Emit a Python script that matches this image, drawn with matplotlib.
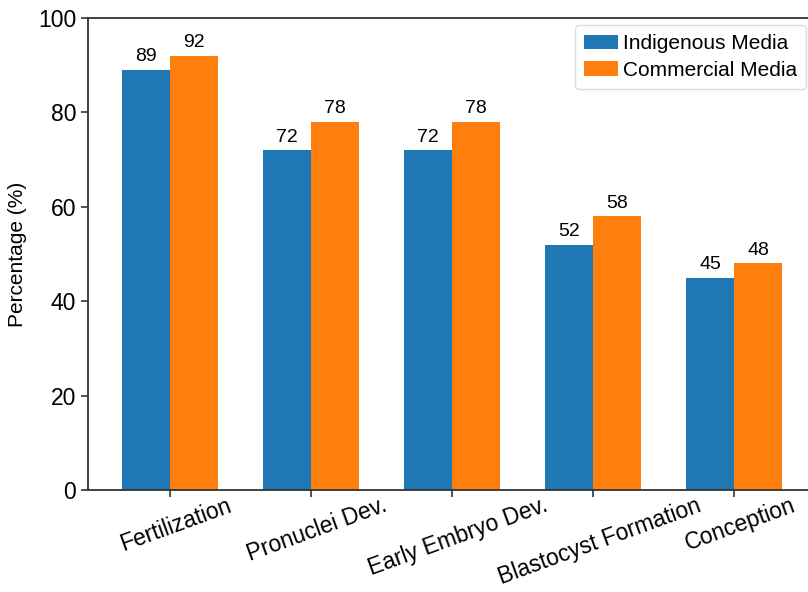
import numpy as np
import matplotlib.pyplot as plt
from matplotlib.transforms import ScaledTranslation

plt.rcParams['font.family'] = ['Liberation Sans', 'DejaVu Sans']

stages = ['Fertilization', 'Pronuclei Dev.', 'Early Embryo Dev.',
          'Blastocyst Formation', 'Conception']
indigenous = [89, 72, 72, 52, 45]
commercial = [92, 78, 78, 58, 48]

x = np.arange(len(stages))
width = 0.34

fig = plt.figure(figsize=(8.08, 5.92), dpi=100)
ax = fig.add_axes([0.109, 0.172, 0.901, 0.798])

b1 = ax.bar(x - width / 2, indigenous, width, color='#1f77b4', label='Indigenous Media')
b2 = ax.bar(x + width / 2, commercial, width, color='#ff7f0e', label='Commercial Media')

# value labels on top of each bar
for bars, vals in ((b1, indigenous), (b2, commercial)):
    for rect, v in zip(bars, vals):
        ax.text(rect.get_x() + rect.get_width() / 2, v + 0.9, str(v),
                ha='center', va='bottom', fontsize=14)

ax.set_xlim(-0.58, 4.58)
ax.set_ylim(0, 100)
ax.set_yticks([0, 20, 40, 60, 80, 100])
ax.set_xticks(x)
ax.set_xticklabels(stages, rotation=20, ha='center', fontsize=16.5)
ax.tick_params(axis='y', labelsize=16.5, length=5, width=1.2, color='#333333')
ax.tick_params(axis='x', length=5, width=1.2, color='#333333', pad=0)
ax.set_ylabel('Percentage (%)', fontsize=15, labelpad=8)

# nudge rotated labels a little right and up
shift = ScaledTranslation(6 / 100, 3 / 100, fig.dpi_scale_trans)
for lbl in ax.get_xticklabels():
    lbl.set_transform(lbl.get_transform() + shift)

for side in ('left', 'bottom', 'top', 'right'):
    ax.spines[side].set_linewidth(1.3)
    ax.spines[side].set_color('#333333')

ax.legend(loc='upper right', bbox_to_anchor=(0.998, 0.958),
          bbox_transform=fig.transFigure, borderaxespad=0, fontsize=15,
          handlelength=1.6, handletextpad=0.25, borderpad=0.45,
          labelspacing=0.35, fancybox=True, framealpha=1, edgecolor='#dddddd')

fig.savefig('out.png', dpi=100)
